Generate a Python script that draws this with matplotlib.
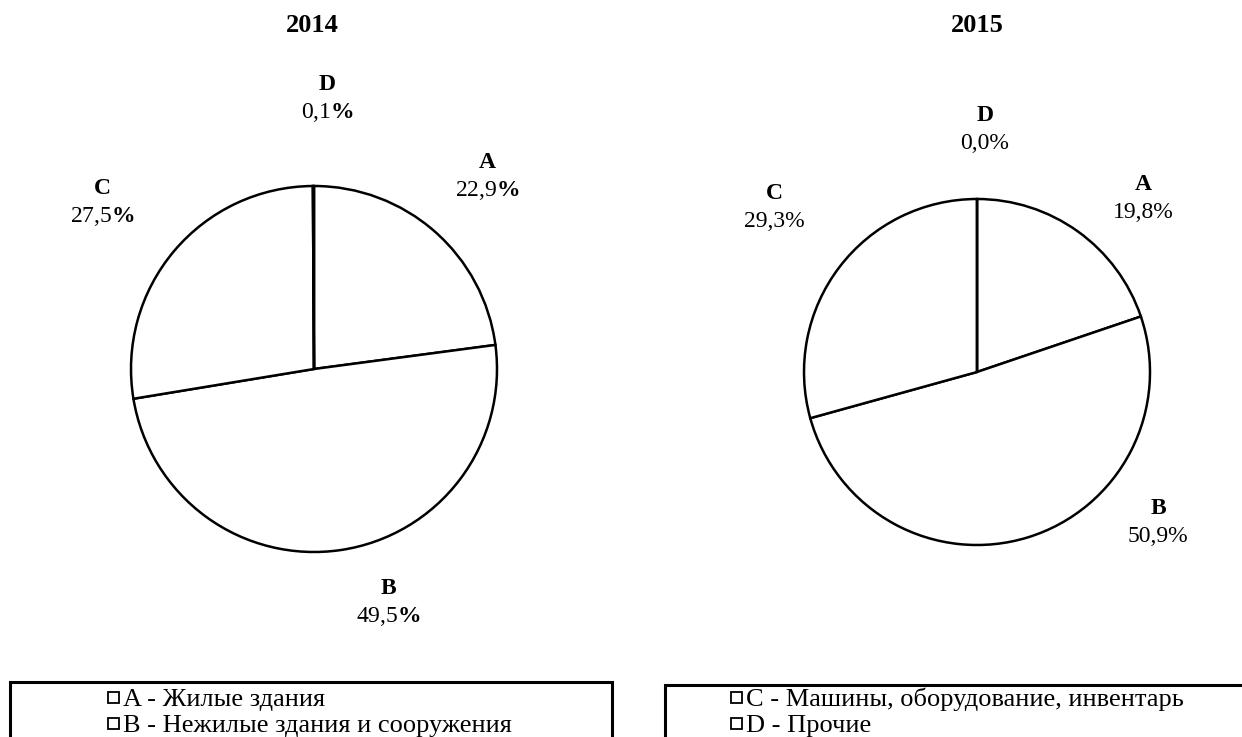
import matplotlib
matplotlib.use('Agg')
import matplotlib.pyplot as plt
from matplotlib.patches import Rectangle

# data
years = ['2014', '2015']
letters = ['A', 'B', 'C', 'D']
share_2014 = [22.9, 49.5, 27.5, 0.1]
share_2015 = [19.8, 50.9, 29.3, 0.0]
names = ['Жилые здания', 'Нежилые здания и сооружения',
         'Машины, оборудование, инвентарь', 'Прочие']

plt.rcParams['font.family'] = ['Liberation Serif', 'DejaVu Serif']
plt.rcParams['mathtext.fontset'] = 'custom'
plt.rcParams['mathtext.rm'] = 'Liberation Serif'
plt.rcParams['mathtext.bf'] = 'Liberation Serif:bold'

W, H = 1242, 737
fig = plt.figure(figsize=(W / 100, H / 100), dpi=100)
ax = fig.add_axes([0, 0, 1, 1])

def Y(y):
    # pixel from top -> data
    return H - y

# layout (pixels, top origin)
centers = [(314, 369), (977, 372)]
radii = [183, 173]
title_x = [312, 977]
label_pos = [
    {'A': (487, 162), 'B': (388, 588), 'C': (102, 188), 'D': (327, 84)},
    {'A': (1143, 184), 'B': (1158, 509), 'C': (774, 193), 'D': (985, 115)},
]
line_gap = 28
bold_pct = [True, False]

for k, vals in enumerate([share_2014, share_2015]):
    cx, cy = centers[k]
    ax.pie(vals, center=(cx, Y(cy)), radius=radii[k], startangle=90,
           counterclock=False, colors=['white'] * 4,
           wedgeprops=dict(edgecolor='black', linewidth=1.8))
    ax.text(title_x[k], Y(25), years[k], ha='center', va='center',
            fontsize=19, fontweight='bold')
    for i, let in enumerate(letters):
        x, y = label_pos[k][let]
        num = f'{vals[i]:.1f}'.replace('.', ',')
        pct = num + (r'$\mathbf{\%}$' if bold_pct[k] else '%')
        ax.text(x, Y(y), let, ha='center', va='center',
                fontsize=17, fontweight='bold')
        ax.text(x, Y(y + line_gap), pct, ha='center', va='center',
                fontsize=17)

ax.set_xlim(0, W)
ax.set_ylim(0, H)
ax.set_aspect('auto')
ax.axis('off')

# legend boxes (run off the bottom of the figure)
boxes = [(10, 682, 602), (665, 685, 640)]
for bx, by, bw in boxes:
    ax.add_patch(Rectangle((bx, Y(by + 100)), bw, 100, facecolor='white',
                           edgecolor='black', linewidth=2.2, clip_on=False))

# legend entries: marker x, row baselines
leg_x = [108, 731]
leg_rows = [706, 732]
leg_fs = 19
sq = 11
for j in range(2):
    for r, i in enumerate([2 * j, 2 * j + 1]):
        base = leg_rows[r]
        ax.add_patch(Rectangle((leg_x[j], Y(base - 3)), sq, sq,
                               facecolor='white', edgecolor='black',
                               linewidth=1.3, clip_on=False))
        ax.text(leg_x[j] + sq + 4, Y(base), f'{letters[i]} - {names[i]}',
                ha='left', va='baseline', fontsize=leg_fs)

fig.savefig('out.png', dpi=100)
